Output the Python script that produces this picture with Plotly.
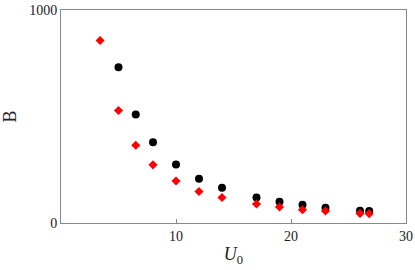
import plotly.graph_objects as go

u_black = [5, 6.5, 8, 10, 12, 14, 17, 19, 21, 23, 26, 26.8]
b_black = [731, 509, 379, 275, 208, 165, 120, 100, 86, 72, 58, 56]
u_red = [3.4, 5, 6.5, 8, 10, 12, 14, 17, 19, 21, 23, 26, 26.8]
b_red = [857, 528, 365, 273, 197, 148, 120, 89, 75, 62, 56, 45, 44]

x_ticks = [10, 20, 30]
y_ticks = [0, 1000]

fig = go.Figure()
fig.add_trace(go.Scatter(x=u_black, y=b_black, mode="markers",
                         marker=dict(symbol="circle", size=8, color="black"),
                         showlegend=False))
fig.add_trace(go.Scatter(x=u_red, y=b_red, mode="markers",
                         marker=dict(symbol="diamond", size=7, color="#ff0000"),
                         showlegend=False))

fig.update_layout(
    width=415, height=270,
    margin=dict(l=61, r=9, t=10, b=47),
    plot_bgcolor="white", paper_bgcolor="white",
    font=dict(family="Liberation Serif", size=14, color="#222222"),
    xaxis=dict(range=[0, 30], tickvals=x_ticks, ticks="inside", ticklen=4,
               tickcolor="#888888", showline=True, linecolor="#888888",
               linewidth=1, mirror=True, showgrid=False, zeroline=False,
               automargin=False,
               tickfont=dict(family="Liberation Serif", size=14),
               title=dict(text="<i>U</i><sub>0</sub>", font=dict(family="Liberation Serif", size=18), standoff=4)),
    yaxis=dict(range=[0, 1000], tickvals=y_ticks, ticks="", showline=True,
               linecolor="#888888", linewidth=1, mirror=True, showgrid=False,
               zeroline=False, automargin=False,
               tickfont=dict(family="Liberation Serif", size=14),
               title=dict(text="B", font=dict(family="Liberation Serif", size=18), standoff=14)),
)
fig.write_html("out.html", config={"displayModeBar": False},
               post_script="document.body.style.margin='0';document.body.style.overflow='hidden';")
